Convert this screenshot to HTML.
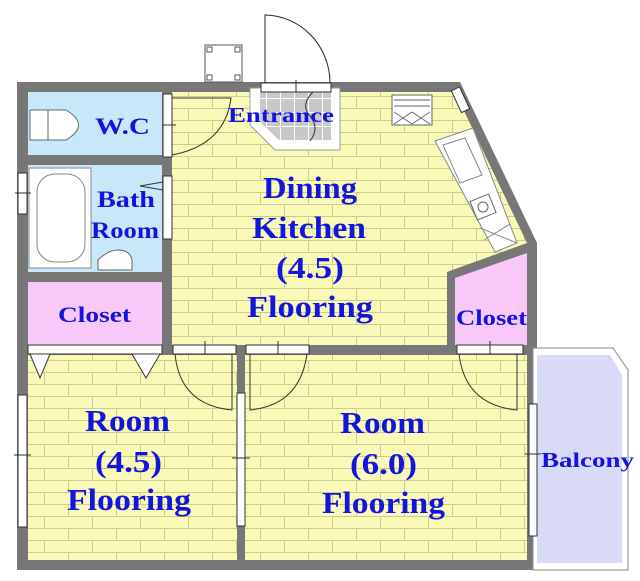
<!DOCTYPE html>
<html><head><meta charset="utf-8"><style>
html,body{margin:0;padding:0;background:#fff;width:640px;height:581px;overflow:hidden}
svg text{font-family:"Liberation Serif",serif;font-weight:bold;fill:#1414e0}
</style></head><body>
<svg width="640" height="581" viewBox="0 0 640 581" xmlns="http://www.w3.org/2000/svg">
<defs>
<pattern id="brick" x="0" y="0" width="96" height="24" patternUnits="userSpaceOnUse">
<rect width="96" height="24" fill="#fafab8"/>
<path d="M0 0.5H96M0 12.5H96M20.5 0V12M68.5 0V12M44.5 12V24M92.5 12V24" stroke="#cccc90" stroke-width="1" fill="none"/>
</pattern>
<pattern id="tile" width="14" height="14" patternUnits="userSpaceOnUse">
<rect width="14" height="14" fill="#c8c8c8"/>
<path d="M0 0.5H14M0.5 0V14" stroke="#fff" stroke-width="1"/>
</pattern>
</defs>
<polygon points="17,82 460,82 537,243 537,570 17,570" fill="#777"/>
<rect x="28" y="92" width="134" height="63" fill="#c8e8fa"/>
<rect x="28" y="165" width="134" height="107" fill="#c8e8fa"/>
<rect x="28" y="282" width="134" height="63" fill="#f8c8f8"/>
<polygon points="172,92 455,92 527,243 447,272 447,345 172,345" fill="url(#brick)"/>
<polygon points="455,278 527,253 527,345 455,345" fill="#f8c8f8"/>
<rect x="28" y="355" width="209" height="205" fill="url(#brick)"/>
<rect x="245" y="355" width="282" height="205" fill="url(#brick)"/>
<polygon points="533,348 613,348 628,370 628,570 533,570" fill="#fff" stroke="#888" stroke-width="1"/>
<polygon points="537,355 610,355 622,375 622,563 537,563" fill="#d8daf8"/>
<polygon points="250,88 340,88 340,150 275,150 250,125" fill="#fff" stroke="#999"/>
<polygon points="260,92 331,92 331,141 280,141 260,122" fill="url(#tile)"/>
<path d="M313 92 Q300 105 310 116 Q320 128 310 141" stroke="#333" fill="none"/>
<rect x="261" y="83" width="70" height="9" fill="#fff" stroke="#333"/>
<line x1="296" y1="80" x2="296" y2="92" stroke="#333"/>
<path d="M265 83 V15 A66 68 0 0 1 330 83" stroke="#222" fill="none"/>
<rect x="205" y="45" width="37" height="37" fill="#fff" stroke="#555"/>
<rect x="207" y="47" width="5" height="5" fill="none" stroke="#555"/><rect x="235" y="47" width="5" height="5" fill="none" stroke="#555"/>
<rect x="207" y="75" width="5" height="5" fill="none" stroke="#555"/><rect x="235" y="75" width="5" height="5" fill="none" stroke="#555"/>
<rect x="163" y="94" width="9" height="63" fill="#fff" stroke="#333"/>
<line x1="162" y1="125" x2="176" y2="125" stroke="#333"/>
<path d="M172 98 H231 Q225 145 172 155" stroke="#333" fill="none"/>
<rect x="163" y="176" width="9" height="63" fill="#fff" stroke="#333"/>
<path d="M163 182 L140 186 L163 190" stroke="#333" fill="none"/>
<path d="M30 110 h18 v30 h-18z M48 110 h18 q25 15 0 30 h-18z" fill="#fff" stroke="#666"/>
<rect x="29" y="168" width="62" height="100" fill="#fff" stroke="#888"/>
<rect x="37" y="174" width="48" height="88" rx="18" fill="#fff" stroke="#888"/>
<rect x="18" y="173" width="9" height="41" fill="#fff" stroke="#333"/>
<line x1="15" y1="193" x2="31" y2="193" stroke="#333"/>
<path d="M98 270 v-10 q10 -10 20 -10 q12 0 14 10 v10z" fill="#fff" stroke="#666"/>
<rect x="392" y="95" width="40" height="30" fill="#fff" stroke="#666"/>
<path d="M394 100h36M394 106h36M394 112 l18 12 M412 112 l-18 12 M412 112 l18 12 M430 112 l-18 12" stroke="#666" fill="none"/>
<rect x="456" y="88" width="9" height="24" fill="#fff" stroke="#333" transform="rotate(-25 460 100)"/>
<polygon points="435,141 473,128 517,243 495,252" fill="#fff" stroke="#888"/>
<polygon points="443,145 465,138 482,175 460,183" fill="none" stroke="#888"/>
<rect x="473" y="197" width="20" height="20" fill="none" stroke="#666" transform="rotate(-22 483 207)"/>
<circle cx="483" cy="207" r="5" fill="none" stroke="#666"/>
<path d="M480 228 L517 243 M484 240 L510 224" stroke="#888"/>
<rect x="28" y="345" width="134" height="9" fill="#fff" stroke="#333"/>
<polygon points="30,354 50,354 40,378" fill="#fff" stroke="#333"/>
<polygon points="132,354 160,354 146,378" fill="#fff" stroke="#333"/>
<rect x="173" y="345" width="63" height="9" fill="#fff" stroke="#333"/>
<line x1="205" y1="341" x2="205" y2="354" stroke="#333"/>
<path d="M175 354 Q180 405 232 410 V354" stroke="#333" fill="none"/>
<rect x="246" y="345" width="63" height="9" fill="#fff" stroke="#333"/>
<line x1="278" y1="341" x2="278" y2="354" stroke="#333"/>
<path d="M250 354 V410 Q300 405 307 354" stroke="#333" fill="none"/>
<rect x="457" y="345" width="66" height="9" fill="#fff" stroke="#333"/>
<line x1="490" y1="341" x2="490" y2="354" stroke="#333"/>
<path d="M459 354 Q465 405 517 410 V354" stroke="#333" fill="none"/>
<rect x="18" y="395" width="9" height="132" fill="#fff" stroke="#333"/>
<line x1="14" y1="455" x2="31" y2="455" stroke="#333"/>
<rect x="237" y="393" width="8" height="133" fill="#fff" stroke="#333"/>
<line x1="232" y1="458" x2="250" y2="458" stroke="#333"/>
<rect x="529" y="404" width="8" height="132" fill="#fff" stroke="#333"/>
<line x1="525" y1="454" x2="541" y2="454" stroke="#333"/>
<text x="95" y="134" font-size="23" textLength="55" lengthAdjust="spacingAndGlyphs">W.C</text>
<text x="97" y="207" font-size="23" textLength="58" lengthAdjust="spacingAndGlyphs">Bath</text>
<text x="91" y="238" font-size="23" textLength="68" lengthAdjust="spacingAndGlyphs">Room</text>
<text x="228" y="122" font-size="21" textLength="106" lengthAdjust="spacingAndGlyphs">Entrance</text>
<text x="263" y="198" font-size="31" textLength="94" lengthAdjust="spacingAndGlyphs">Dining</text>
<text x="252" y="238" font-size="31" textLength="114" lengthAdjust="spacingAndGlyphs">Kitchen</text>
<text x="276" y="278" font-size="31" textLength="68" lengthAdjust="spacingAndGlyphs">(4.5)</text>
<text x="247" y="317" font-size="31" textLength="126" lengthAdjust="spacingAndGlyphs">Flooring</text>
<text x="58" y="322" font-size="22" textLength="73" lengthAdjust="spacingAndGlyphs">Closet</text>
<text x="456" y="325" font-size="22" textLength="71" lengthAdjust="spacingAndGlyphs">Closet</text>
<text x="85" y="431" font-size="31" textLength="85" lengthAdjust="spacingAndGlyphs">Room</text>
<text x="95" y="472" font-size="31" textLength="67" lengthAdjust="spacingAndGlyphs">(4.5)</text>
<text x="67" y="510" font-size="31" textLength="124" lengthAdjust="spacingAndGlyphs">Flooring</text>
<text x="340" y="433" font-size="31" textLength="85" lengthAdjust="spacingAndGlyphs">Room</text>
<text x="350" y="474" font-size="31" textLength="67" lengthAdjust="spacingAndGlyphs">(6.0)</text>
<text x="322" y="513" font-size="31" textLength="123" lengthAdjust="spacingAndGlyphs">Flooring</text>
<text x="541" y="467" font-size="21" textLength="93" lengthAdjust="spacingAndGlyphs">Balcony</text>
</svg>
</body></html>
